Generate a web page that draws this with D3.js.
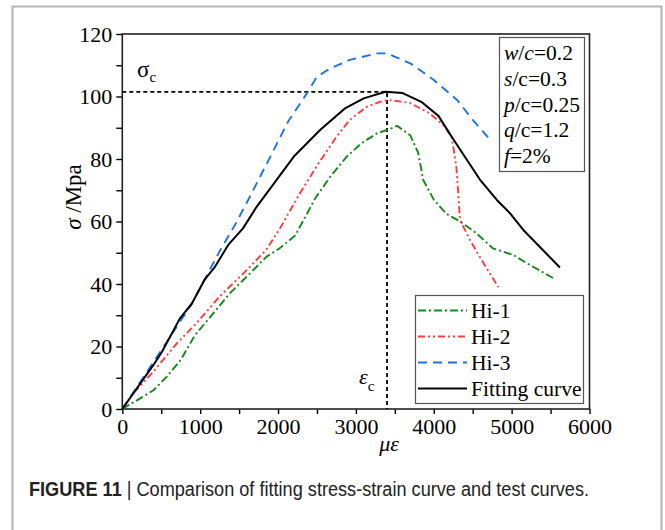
<!DOCTYPE html>
<html>
<head>
<meta charset="utf-8">
<script src="https://cdn.jsdelivr.net/npm/d3@7"></script>
<style>
  html, body { margin: 0; padding: 0; background: #fff; }
  svg { display: block; }
</style>
</head>
<body>
<svg id="chart" width="665" height="530"></svg>
<script>
// ---------------- DATA ----------------
const xTicks = [0, 1000, 2000, 3000, 4000, 5000, 6000];
const yTicks = [0, 20, 40, 60, 80, 100, 120];
const seriesNames = ["Hi-1", "Hi-2", "Hi-3", "Fitting curve"];

const hi1 = [[0,0],[230,3.4],[400,6],[570,10.3],[750,15.7],[930,23.5],[1130,29.5],[1380,37],[1640,43.4],[1850,48.7],[2020,51.4],[2220,55.5],[2480,67.5],[2670,74.3],[2880,80.7],[3070,85],[3270,88.2],[3400,89.3],[3530,90.6],[3700,87.5],[3800,82],[3865,73.3],[4000,67],[4165,62.4],[4340,60],[4550,56.2],[4760,51.4],[5020,49.3],[5240,46],[5540,41.8]];
const hi2 = [[0,0],[140,5],[400,12],[700,21],[950,27.4],[1250,36],[1600,44.5],[1850,51],[2025,57.8],[2280,69],[2520,78.6],[2750,87.1],[2920,92.5],[3140,96.7],[3310,98.3],[3420,98.9],[3690,98],[3950,94.6],[4120,90.9],[4230,87.1],[4290,77.5],[4315,69],[4336,60.5],[4465,54.1],[4590,48.7],[4720,43.4],[4830,39]];
const hi3 = [[0,0],[400,15],[900,34],[1250,50.5],[1450,59],[1640,68],[1900,80.7],[2130,92],[2370,101],[2500,106.3],[2670,109],[2920,111.7],[3270,113.8],[3400,113.8],[3700,110.6],[4000,105.3],[4300,98.9],[4500,92.5],[4730,86]];
const fitting = [[0,0],[400,14.1],[510,18.3],[740,29],[890,33.6],[1060,41.5],[1190,45.5],[1360,52.5],[1550,57.8],[1725,64.7],[2200,80.7],[2540,89.3],[2860,96.2],[3100,99.4],[3380,101.5],[3600,101.1],[3840,98.3],[4060,93.8],[4230,87.1],[4590,73.5],[4810,66.9],[4980,62.6],[5150,57.3],[5360,51.9],[5620,45.3]];

const peakStrain = 3400;   // epsilon_c
const peakStress = 101.5;  // sigma_c

const paramLines = [
  [["w", true], ["/", false], ["c", true], ["=0.2", false]],
  [["s", true], ["/c=0.3", false]],
  [["p", true], ["/c=0.25", false]],
  [["q", true], ["/c=1.2", false]],
  [["f", true], ["=2%", false]]
];

// ---------------- STYLES ----------------
const styles = [
  { color: "#14891a", dash: "8,3,2,3", width: 1.9 },
  { color: "#ff3b3b", dash: "7,3,2,3,2,3", width: 1.9 },
  { color: "#1f72e6", dash: "9,6", width: 1.9 },
  { color: "#000000", dash: null, width: 2.0 }
];
const seriesData = [hi1, hi2, hi3, fitting];

const serif = "'Liberation Serif', 'Times New Roman', serif";

// ---------------- CHART ----------------
const svg = d3.select("#chart");

// outer gray frame
svg.append("rect")
  .attr("x", 12.5).attr("y", 6.5)
  .attr("width", 649).attr("height", 540)
  .attr("fill", "none").attr("stroke", "#b4b4b4").attr("stroke-width", 2);

const x = d3.scaleLinear().domain([0, 6000]).range([122.3, 589.5]);
const y = d3.scaleLinear().domain([0, 120]).range([409, 34]);

// axes
const xAxis = svg.append("g").attr("transform", `translate(0,${y(0)})`)
  .call(d3.axisBottom(x).tickValues(xTicks).tickFormat(d3.format("d")).tickSize(5).tickPadding(4));
const xMinor = svg.append("g").attr("transform", `translate(0,${y(0)})`)
  .call(d3.axisBottom(x).tickValues(d3.range(500, 6000, 1000)).tickFormat("").tickSize(5));
const yAxis = svg.append("g").attr("transform", `translate(${x(0)},0)`)
  .call(d3.axisLeft(y).tickValues(yTicks).tickSize(6).tickPadding(4));
const yMinor = svg.append("g").attr("transform", `translate(${x(0)},0)`)
  .call(d3.axisLeft(y).tickValues(d3.range(10, 120, 20)).tickFormat("").tickSize(6));

[xAxis, xMinor, yAxis, yMinor].forEach(g => {
  g.select(".domain").remove();
  g.selectAll(".tick line").attr("stroke", "#000").attr("stroke-width", 1.4);
  g.selectAll(".tick text").attr("font-family", serif).attr("font-size", 22).attr("fill", "#000");
});
xAxis.selectAll(".tick text").attr("dy", "0.74em");
yAxis.selectAll(".tick text").attr("dy", "0.34em");

// plot frame
svg.append("rect")
  .attr("x", x(0)).attr("y", y(120))
  .attr("width", x(6000) - x(0)).attr("height", y(0) - y(120))
  .attr("fill", "none").attr("stroke", "#222").attr("stroke-width", 1.6);

// reference dashed lines
svg.append("path")
  .attr("d", `M${x(0)},${y(peakStress)}H${x(peakStrain)}V${y(0)}`)
  .attr("fill", "none").attr("stroke", "#000").attr("stroke-width", 1.8)
  .attr("stroke-dasharray", "4,3");

// series
const line = d3.line().x(d => x(d[0])).y(d => y(d[1]));
seriesData.forEach((data, i) => {
  svg.append("path")
    .attr("d", line(data))
    .attr("fill", "none")
    .attr("stroke", styles[i].color)
    .attr("stroke-width", styles[i].width)
    .attr("stroke-dasharray", styles[i].dash)
    .attr("stroke-linejoin", "round");
});

// sigma_c label
const sig = svg.append("text").attr("x", 137).attr("y", 77)
  .attr("font-family", serif).attr("font-size", 23).attr("fill", "#000");
sig.append("tspan").text("σ");
sig.append("tspan").attr("font-size", 15).attr("dy", 5).text("c");

// epsilon_c label
const eps = svg.append("text").attr("x", 359).attr("y", 384)
  .attr("font-family", serif).attr("font-size", 22).attr("fill", "#000");
eps.append("tspan").attr("font-style", "italic").text("ε");
eps.append("tspan").attr("font-size", 15).attr("dy", 7).attr("dx", 0).text("c");

// axis titles
svg.append("text")
  .attr("x", 389).attr("y", 451)
  .attr("text-anchor", "middle")
  .attr("font-family", serif).attr("font-size", 22).attr("font-style", "italic")
  .text("με");

const yl = svg.append("text")
  .attr("transform", `translate(81,197) rotate(-90)`)
  .attr("text-anchor", "middle")
  .attr("font-family", serif).attr("font-size", 23);
yl.append("tspan").attr("font-style", "italic").text("σ");
yl.append("tspan").text(" /Mpa");

// parameter box
svg.append("rect")
  .attr("x", 499.5).attr("y", 37.5).attr("width", 85).attr("height", 134)
  .attr("fill", "#fff").attr("stroke", "#555").attr("stroke-width", 1.2);
paramLines.forEach((parts, i) => {
  const t = svg.append("text")
    .attr("x", 504).attr("y", 60 + i * 25.8)
    .attr("font-family", serif).attr("font-size", 21.5).attr("fill", "#000");
  parts.forEach(p => t.append("tspan").attr("font-style", p[1] ? "italic" : "normal").text(p[0]));
});

// legend
svg.append("rect")
  .attr("x", 415.5).attr("y", 295.5).attr("width", 168).attr("height", 108)
  .attr("fill", "#fff").attr("stroke", "#555").attr("stroke-width", 1.2);
seriesNames.forEach((name, i) => {
  const ly = 310.5 + i * 26;
  svg.append("line")
    .attr("x1", 418).attr("x2", 467).attr("y1", ly).attr("y2", ly)
    .attr("stroke", styles[i].color).attr("stroke-width", styles[i].width)
    .attr("stroke-dasharray", styles[i].dash);
  svg.append("text")
    .attr("x", 471).attr("y", ly + 7.5)
    .attr("font-family", serif).attr("font-size", 21.5).attr("fill", "#000")
    .text(name);
});

// caption
const cap = svg.append("text")
  .attr("x", 29).attr("y", 496)
  .attr("font-family", "'Liberation Sans', Arial, sans-serif").attr("font-size", 19.5).attr("fill", "#222")
  .attr("textLength", 560).attr("lengthAdjust", "spacingAndGlyphs");
cap.append("tspan").attr("font-weight", "bold").text("FIGURE 11");
cap.append("tspan").text(" | Comparison of fitting stress-strain curve and test curves.");
</script>
</body>
</html>
